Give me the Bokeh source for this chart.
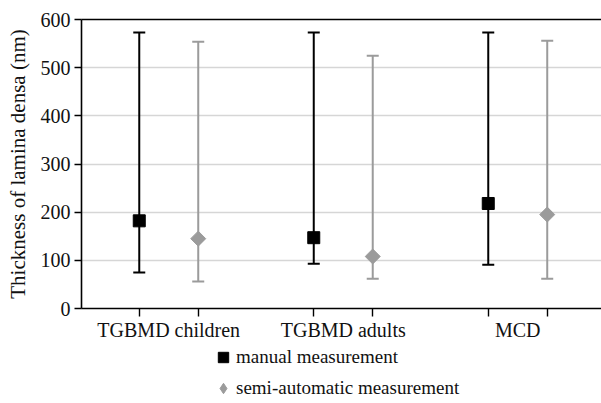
import numpy as np
from bokeh.plotting import figure
from bokeh.layouts import column
from bokeh.models import (ColumnDataSource, Range1d, FixedTicker, Whisker, TeeHead,
                          Legend, LegendItem, LinearAxis)
from bokeh.embed import file_html
from bokeh.resources import INLINE

categories = ["TGBMD children", "TGBMD adults", "MCD"]
series = ["manual measurement", "semi-automatic measurement"]
manual_mean = [182, 147, 218]
manual_low = [75, 93, 91]
manual_high = [573, 573, 573]
semi_mean = [145, 108, 195]
semi_low = [56, 62, 62]
semi_high = [554, 525, 556]
y_ticks = [0, 100, 200, 300, 400, 500, 600]

FONT = "Liberation Serif"
GRAY = "#9b9b9b"
OFF = 0.169

centers = [i + 0.5 for i in range(len(categories))]
man_x = [c - OFF for c in centers]
semi_x = [c + OFF for c in centers]

man_src = ColumnDataSource(dict(x=man_x, y=manual_mean, lo=manual_low, hi=manual_high))
semi_src = ColumnDataSource(dict(x=semi_x, y=semi_mean, lo=semi_low, hi=semi_high))

p = figure(width=601, height=343, output_backend="svg", toolbar_location=None,
           x_range=Range1d(0, 2.98), y_range=Range1d(0, 600),
           min_border_left=81, min_border_right=0, min_border_top=19, min_border_bottom=34)
p.outline_line_color = None
p.xgrid.grid_line_color = None
p.ygrid.grid_line_color = "#d6d6d6"
p.ygrid.grid_line_width = 1.3
p.ygrid.ticker = FixedTicker(ticks=y_ticks)

p.yaxis.ticker = FixedTicker(ticks=y_ticks)
p.yaxis.axis_label = "Thickness of lamina densa (nm)"
p.yaxis.axis_label_text_font = FONT
p.yaxis.axis_label_text_font_size = "21px"
p.yaxis.axis_label_text_font_style = "normal"
p.yaxis.axis_label_text_color = "#111111"
p.yaxis.axis_label_standoff = 8
p.yaxis.major_label_text_font = FONT
p.yaxis.major_label_text_font_size = "20px"
p.yaxis.major_label_text_color = "#111111"
p.yaxis.major_label_standoff = 4
p.yaxis.major_tick_in = 0
p.yaxis.major_tick_out = 7
p.yaxis.minor_tick_line_color = None
p.yaxis.axis_line_width = 1.6
p.yaxis.major_tick_line_width = 1.4

p.xaxis.ticker = FixedTicker(ticks=centers, minor_ticks=man_x + semi_x)
p.xaxis.major_label_overrides = {c: name for c, name in zip(centers, categories)}
p.xaxis.major_tick_line_color = None
p.xaxis.major_tick_in = 0
p.xaxis.major_tick_out = 8
p.xaxis.minor_tick_in = 0
p.xaxis.minor_tick_out = 8
p.xaxis.minor_tick_line_width = 1.4
p.xaxis.major_label_text_font = FONT
p.xaxis.major_label_text_font_size = "20px"
p.xaxis.major_label_text_color = "#111111"
p.xaxis.major_label_standoff = 2
p.xaxis.axis_line_width = 1.6

# top frame line: an axis whose only tick lies outside the range
top = LinearAxis(ticker=FixedTicker(ticks=[-1000]), major_tick_line_color=None,
                 minor_tick_line_color=None, axis_line_width=1.6,
                 major_label_text_font=FONT, major_label_text_font_size="10px")
p.add_layout(top, "above")

for src, col in [(man_src, "black"), (semi_src, GRAY)]:
    w = Whisker(source=src, base="x", lower="lo", upper="hi", line_color=col, line_width=2,
                upper_head=TeeHead(size=12, line_color=col, line_width=2),
                lower_head=TeeHead(size=12, line_color=col, line_width=2))
    p.add_layout(w)

p.scatter("x", "y", source=man_src, marker="square", size=12,
          fill_color="black", line_color="black")
p.scatter("x", "y", source=semi_src, marker="square", size=10.6, angle=np.pi / 4,
          fill_color=GRAY, line_color=GRAY)

# legend strip below the chart
lg = figure(width=601, height=60, output_backend="svg", toolbar_location=None,
            x_range=Range1d(0, 1), y_range=Range1d(0, 1),
            x_axis_location=None, y_axis_location=None,
            min_border_left=0, min_border_right=0, min_border_top=0, min_border_bottom=0)
lg.outline_line_color = None
lg.grid.grid_line_color = None
k_man = lg.scatter(x=[np.nan], y=[np.nan], marker="square", fill_color="black", line_color="black")
k_semi = lg.scatter(x=[np.nan], y=[np.nan], marker="diamond", fill_color=GRAY, line_color=GRAY)
legend = Legend(items=[LegendItem(label=series[0], renderers=[k_man]),
                       LegendItem(label=series[1], renderers=[k_semi])],
                location=(129, 1), orientation="vertical",
                border_line_color=None, background_fill_alpha=0,
                label_text_font=FONT, label_text_font_size="19px", label_text_color="#111111",
                glyph_width=26, glyph_height=28, label_height=28, spacing=3,
                padding=0, margin=0, label_standoff=-2)
lg.add_layout(legend, "center")

open("out.html", "w").write(file_html(column(p, lg, spacing=0), INLINE))
